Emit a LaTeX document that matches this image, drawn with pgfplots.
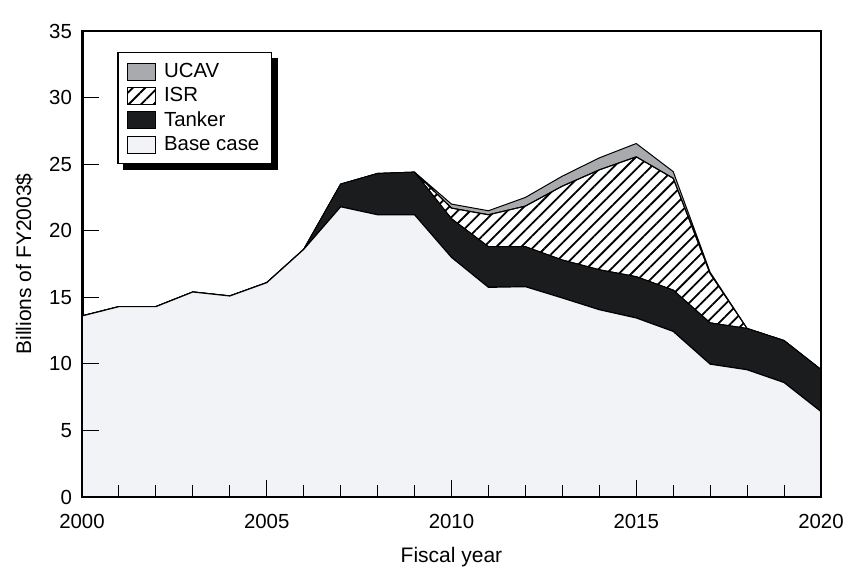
\documentclass[border=0pt]{standalone}
\usepackage{pgfplots}
\pgfplotsset{compat=1.18}
\usepackage{pgfplotstable}
\usepackage{fontspec}
\setmainfont{Liberation Sans}
\usetikzlibrary{patterns.meta,backgrounds,calc}
\definecolor{basec}{HTML}{F2F3F7}
\definecolor{tank}{HTML}{1B1C1E}
\definecolor{ucavc}{HTML}{A9AAAD}

\pgfplotstableread{
year base tanker isr ucav
2000 13.6 0 0 0
2001 14.3 0 0 0
2002 14.3 0 0 0
2003 15.4 0 0 0
2004 15.1 0 0 0
2005 16.1 0 0 0
2006 18.6 0 0 0
2007 21.8 1.7 0 0
2008 21.2 3.1 0 0
2009 21.2 3.2 0 0
2010 18.0 2.9 0.8 0.3
2011 15.75 3.05 2.4 0.3
2012 15.8 3.0 3.05 0.65
2013 14.95 2.85 5.55 0.75
2014 14.07 3.0 7.5 0.9
2015 13.45 3.1 9.0 1.0
2016 12.44 3.1 8.4 0.5
2017 9.98 3.1 3.7 0.1
2018 9.56 3.1 0 0
2019 8.6 3.15 0 0
2020 6.42 3.15 0 0
}\datatable

\begin{document}
\begin{tikzpicture}
\path[use as bounding box] (-41pt,-36pt) rectangle (382pt,248.5pt);
\begin{axis}[
  at={(0,0)}, anchor=south west,
  scale only axis, width=369.5pt, height=233pt,
  xmin=2000, xmax=2020, ymin=0, ymax=35,
  xtick={2000,2005,...,2020}, minor x tick num=4,
  ytick={0,5,...,35},
  tick align=inside,
  xtick pos=bottom, ytick pos=left,
  major tick length=8.5pt, minor tick length=6pt,
  tick style={black, line width=0.5pt},
  /pgf/number format/assume math mode=true,
  /pgf/number format/1000 sep={},
  tick label style={font=\fontsize{10.2}{11}\selectfont},
  xticklabel style={anchor=base, yshift=-15.5pt},
  yticklabel style={anchor=east, xshift=-1.5pt},
  label style={font=\fontsize{10.5}{12}\selectfont},
  xlabel={Fiscal year}, ylabel={Billions of FY2003\$},
  xlabel style={at={(axis description cs:0.5,-0.1395)}, anchor=base},
  ylabel style={at={(axis description cs:-0.069,0.5)}, anchor=base},
  axis on top,
  axis line style={line width=0.75pt},
  stack plots=y,
  reverse legend,
  legend cell align=left,
  legend image code/.code={\draw[#1, draw=black, line width=0.5pt] (0pt,-4.25pt) rectangle (14pt,4.25pt);},
  legend style={name=leg, at={(axis description cs:0.048,0.955)}, anchor=north west,
    draw=black, line width=0.6pt, fill=white, inner xsep=4.25pt, inner ysep=3.5pt,
    row sep=0pt, column sep=2.5pt, font=\fontsize{10.2}{11}\selectfont,
    nodes={inner sep=1.75pt}},
]
\addplot[draw=black, line width=0.6pt, fill=basec] table[x=year, y=base] {\datatable} \closedcycle;
\addlegendentry{Base case}
\addplot[draw=black, line width=0.5pt, fill=tank] table[x=year, y=tanker] {\datatable} \closedcycle;
\addlegendentry{Tanker}
\addplot[draw=black, line width=0.5pt, pattern={Lines[angle=45,distance=4.4pt,line width=0.9pt]}] table[x=year, y=isr] {\datatable} \closedcycle;
\addlegendentry{ISR}
\addplot[draw=black, line width=0.5pt, fill=ucavc] table[x=year, y=ucav] {\datatable} \closedcycle;
\addlegendentry{UCAV}
\draw[line width=2pt, black] (rel axis cs:0,1) -- (rel axis cs:0,0) -- (rel axis cs:1,0);
\node[anchor=base east, font=\fontsize{6.5}{7}\selectfont, inner sep=0pt] at (rel axis cs:1,1) [yshift=6.5pt] {\textbf{RAND}\textit{MR1656-4.6}};
\end{axis}
\begin{pgfonlayer}{background}
\fill[black] ($(leg.south west)+(3pt,-3pt)$) rectangle ($(leg.north east)+(3pt,-3pt)$);
\end{pgfonlayer}
\end{tikzpicture}
\end{document}
